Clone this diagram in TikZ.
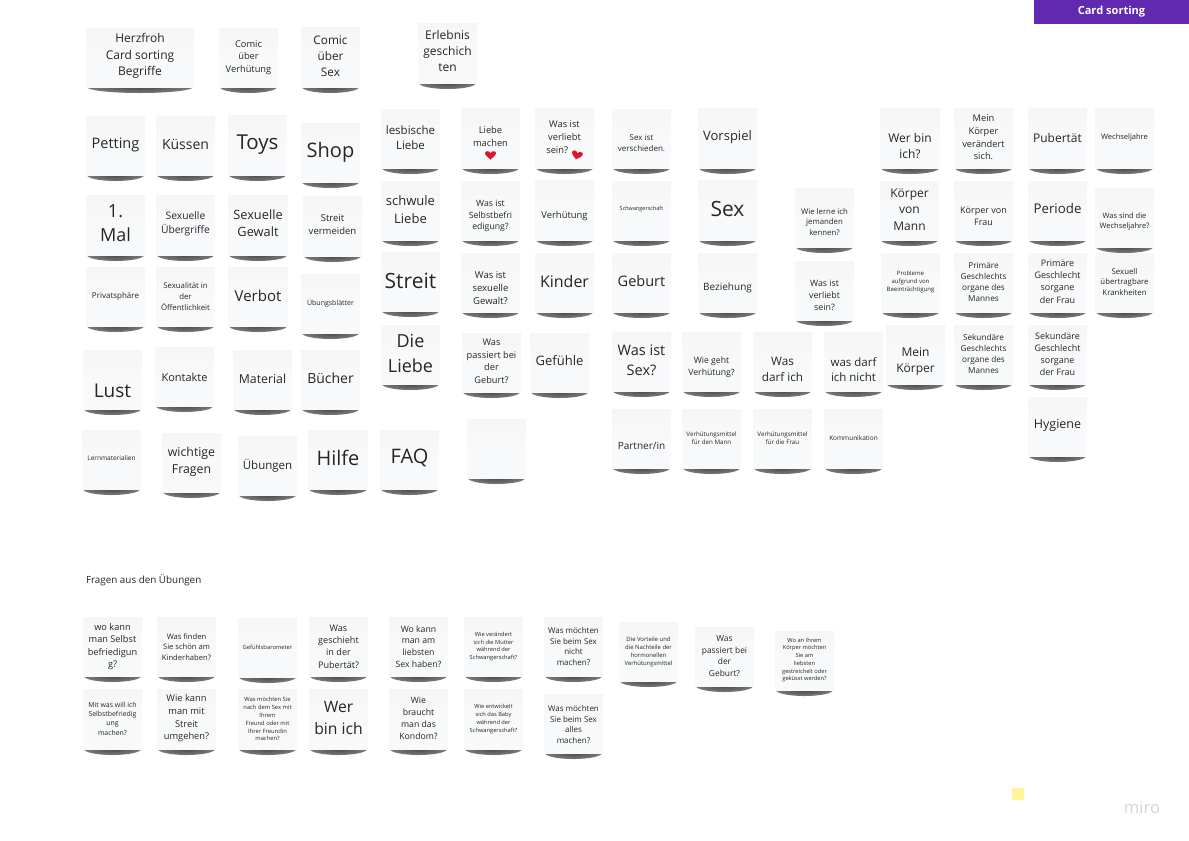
\documentclass[tikz,border=0pt]{standalone}
\usepackage{fontspec}
\setmainfont{Open Sans}
\definecolor{cardtop}{HTML}{F6F6F7}
\definecolor{cardbot}{HTML}{F8F9FA}
\definecolor{inkc}{HTML}{262626}
\definecolor{shadc}{HTML}{4A4A4A}
\definecolor{shadm}{HTML}{808080}
\definecolor{barc}{HTML}{6128B0}
\definecolor{stickyc}{HTML}{FFF59B}
\definecolor{miroc}{HTML}{D4D4DE}
\definecolor{heartc}{HTML}{E0152D}
\pgfdeclareradialshading{cardshadow}{\pgfpointorigin}{color(0bp)=(shadc); color(28bp)=(shadm); color(50bp)=(white)}
\tikzset{
 x=0.75pt,y=-0.75pt,
 cardbox/.style={inner sep=0,outer sep=0,draw=none,top color=cardtop,bottom color=cardbot,middle color=cardbot},
 cardtext/.style={inner sep=0,outer sep=0,align=center,text=inkc},
 shadowbar/.style={shading=cardshadow,draw=none},
 heartfill/.style={fill=heartc,draw=none}
}
% \card{name}{x}{y}{w}{h}
\newcommand\card[5]{%
 \pgfmathsetmacro\cardb{#3+#5}\pgfmathsetmacro\cardc{#2+#4/2}\pgfmathsetmacro\cardrx{#4/2-1}%
 \shade[shadowbar] (\cardc,\cardb) ellipse [x radius=\cardrx,y radius=6];
 \node[cardbox,minimum width=#4*0.75pt,minimum height=#5*0.75pt,anchor=north west] (#1) at (#2,#3) {};
}
\newcommand\lbl[4][0]{% \lbl[dy]{card}{font px}{text}
 \pgfmathsetmacro\cfs{0.75*#3}\pgfmathsetmacro\clh{0.75*#3*1.36}%
 \node[cardtext,font=\fontsize{\cfs pt}{\clh pt}\selectfont] (#2t) at ([yshift=#1*-0.75pt-0.75pt]#2.center) {#4};
}
\newcommand\heartat[3]{% centre x, y, rotation
 \fill[heartfill,shift={(#1,#2)},rotate=#3] (0,4.5) .. controls (-2,2.5) and (-5.5,0.5) .. (-5.5,-1.8) .. controls (-5.5,-4.2) and (-1.5,-4.8) .. (0,-1.8) .. controls (1.5,-4.8) and (5.5,-4.2) .. (5.5,-1.8) .. controls (5.5,0.5) and (2,2.5) .. (0,4.5) -- cycle;
}
\begin{document}
\begin{tikzpicture}
\useasboundingbox (0,0) rectangle (1189,840);
\fill[white] (0,0) rectangle (1189,840);
% header
\node[fill=barc,inner sep=0,outer sep=0,minimum width=155*0.75pt,minimum height=24*0.75pt,anchor=north west,text=white,font=\fontsize{8.3}{10}\selectfont\bfseries] (hdr) at (1034,0) {Card sorting};
% top row
\card{a1}{86}{28}{108}{59}\lbl[-2.5]{a1}{12}{Herzfroh\\Card sorting\\Begriffe}
\card{a2}{219}{28}{59}{59}\lbl[-1]{a2}{9.3}{Comic\\über\\Verhütung}
\card{a3}{301}{27}{59}{60}\lbl[-2]{a3}{11.8}{Comic\\über\\Sex}
\card{a4}{418}{23}{59}{60}\lbl[-3]{a4}{12}{Erlebnis\\geschich\\ten}
% left block
\card{b1}{86}{116}{59}{59}\lbl[-2]{b1}{14.5}{Petting}
\card{b2}{156}{116}{59}{59}\lbl[-2]{b2}{14}{Küssen}
\card{b3}{228}{115}{59}{60}\lbl[-1.5]{b3}{20.5}{Toys}
\card{b4}{301}{123}{59}{59}\lbl[-1]{b4}{20}{Shop}
\card{c1}{86}{195}{59}{60}\lbl[-3]{c1}{18}{1.\\Mal}
\card{c2}{156}{195}{59}{60}\lbl[-2]{c2}{10.3}{Sexuelle\\Übergriffe}
\card{c3}{228}{195}{60}{60}\lbl[-3]{c3}{12.8}{Sexuelle\\Gewalt}
\card{c4}{303}{196}{59}{60}\lbl[-2]{c4}{9.5}{Streit\\vermeiden}
\card{d1}{86}{267}{59}{59}\lbl[-1]{d1}{8}{Privatsphäre}
\card{d2}{156}{267}{59}{59}\lbl[-1]{d2}{7.8}{Sexualität in\\der\\Öffentlichkeit}
\card{d3}{228}{267}{60}{59}\lbl[-2]{d3}{15}{Verbot}
\card{d4}{301}{274}{59}{59}\lbl[-1]{d4}{7}{Übungsblätter}
\card{e1}{83}{350}{59}{59}\lbl[10]{e1}{19}{Lust}
\card{e2}{155}{347}{59}{59}\lbl[0]{e2}{11}{Kontakte}
\card{e3}{233}{350}{59}{59}\lbl[-2]{e3}{12.3}{Material}
\card{e4}{301}{350}{59}{59}\lbl[-2]{e4}{14}{Bücher}
\card{f1}{82}{430}{59}{59}\lbl[-2]{f1}{6.5}{Lernmaterialien}
\card{f2}{162}{433}{59}{59}\lbl[-2]{f2}{12.3}{wichtige\\Fragen}
\card{f3}{238}{436}{59}{59}\lbl[-1]{f3}{11.5}{Übungen}
\card{f4}{308}{430}{60}{59}\lbl[-3]{f4}{20}{Hilfe}
\card{f5}{380}{430}{59}{59}\lbl[-3]{f5}{20}{FAQ}
\card{f6}{467}{419}{59}{59}
% column lesbische
\card{g1}{381}{109}{59}{59}\lbl[-2]{g1}{11.5}{lesbische\\Liebe}
\card{g2}{381}{181}{59}{59}\lbl[-2]{g2}{13}{schwule\\Liebe}
\card{g3}{381}{252}{59}{59}\lbl[-2]{g3}{21}{Streit}
\card{g4}{381}{325}{59}{59}\lbl[-2]{g4}{18}{Die\\Liebe}
% middle block
\card{h1}{461}{108}{59}{60}\lbl[-2.5]{h1}{9.3}{Liebe\\machen}
\heartat{490.5}{155}{0}
\card{h2}{535}{108}{59}{60}\lbl[-2]{h2}{9.3}{Was ist\\verliebt\\sein?\hspace*{11pt}}
\heartat{577}{155}{-15}
\card{h3}{612}{109}{59}{59}\lbl[4]{h3}{8}{Sex ist\\verschieden.}
\card{h4}{698}{108}{59}{60}\lbl[-2]{h4}{13}{Vorspiel}
\card{i1}{461}{181}{59}{59}\lbl[4.5]{i1}{8.7}{Was ist\\Selbstbefri\\edigung?}
\card{i2}{535}{180}{59}{60}\lbl[5]{i2}{9.4}{Verhütung}
\card{i3}{612}{181}{59}{59}\lbl[-2]{i3}{5.5}{Schwangerschaft}
\card{i4}{698}{180}{59}{60}\lbl[-2]{i4}{21}{Sex}
\card{j1}{461}{253}{59}{59}\lbl[4.5]{j1}{9.5}{Was ist\\sexuelle\\Gewalt?}
\card{j2}{535}{253}{59}{59}\lbl[-2]{j2}{16}{Kinder}
\card{j3}{612}{253}{59}{59}\lbl[-2]{j3}{14.5}{Geburt}
\card{j4}{698}{253}{59}{59}\lbl[4.5]{j4}{10}{Beziehung}
\card{k1}{462}{333}{59}{59}\lbl[-2]{k1}{9.2}{Was\\passiert bei\\der\\Geburt?}
\card{k2}{530}{333}{59}{59}\lbl[-2.5]{k2}{13}{Gefühle}
\card{l1}{612}{332}{59}{59}\lbl[-2]{l1}{14.5}{Was ist\\Sex?}
\card{l2}{682}{332}{59}{59}\lbl[4.5]{l2}{8.7}{Wie geht\\Verhütung?}
\card{l3}{753}{332}{59}{59}\lbl[7]{l3}{11.7}{Was\\darf ich}
\card{l4}{824}{332}{59}{59}\lbl[7]{l4}{11.5}{was darf\\ich nicht}
\card{m1}{612}{409}{59}{59}\lbl[6.5]{m1}{10}{Partner/in}
\card{m2}{682}{409}{59}{59}\lbl[-1.5]{m2}{6.2}{Verhütungsmittel\\für den Mann}
\card{m3}{753}{409}{59}{59}\lbl[-1.5]{m3}{6.2}{Verhütungsmittel\\für die Frau}
\card{m4}{824}{409}{59}{59}\lbl[-1.5]{m4}{6.5}{Kommunikation}
\card{n1}{795}{188}{59}{59}\lbl[3.5]{n1}{7.8}{Wie lerne ich\\jemanden\\kennen?}
\card{n2}{795}{261}{59}{59}\lbl[3.5]{n2}{8.8}{Was ist\\verliebt\\sein?}
% right block
\card{o1}{880}{108}{60}{60}\lbl[7]{o1}{12}{Wer bin\\ich?}
\card{o2}{954}{108}{59}{60}\lbl[-1.5]{o2}{9.3}{Mein\\Körper\\verändert\\sich.}
\card{o3}{1028}{108}{59}{60}\lbl[-1]{o3}{12}{Pubertät}
\card{o4}{1095}{108}{59}{60}\lbl[-1.5]{o4}{7.5}{Wechseljahre}
\card{p1}{880}{181}{59}{59}\lbl[-2]{p1}{12}{Körper\\von\\Mann}
\card{p2}{954}{181}{59}{59}\lbl[4.5]{p2}{9}{Körper von\\Frau}
\card{p3}{1028}{181}{59}{59}\lbl[-2.5]{p3}{13.3}{Periode}
\card{p4}{1095}{188}{59}{59}\lbl[3]{p4}{7.5}{Was sind die\\Wechseljahre?}
\card{q1}{881}{253}{59}{59}\lbl[-1.5]{q1}{6}{Probleme\\aufgrund von\\Beeinträchtigung}
\card{q2}{954}{253}{59}{59}\lbl[-1.5]{q2}{8.2}{Primäre\\Geschlechts\\organe des\\Mannes}
\card{q3}{1028}{253}{59}{59}\lbl[-2]{q3}{9}{Primäre\\Geschlecht\\sorgane\\der Frau}
\card{q4}{1095}{253}{59}{59}\lbl[-1.5]{q4}{7.8}{Sexuell\\übertragbare\\Krankheiten}
\card{r1}{886}{325}{59}{59}\lbl[6]{r1}{12}{Mein\\Körper}
\card{r2}{954}{325}{59}{59}\lbl[-1.5]{r2}{8.2}{Sekundäre\\Geschlechts\\organe des\\Mannes}
\card{r3}{1028}{325}{59}{59}\lbl[-1.5]{r3}{9}{Sekundäre\\Geschlecht\\sorgane\\der Frau}
\card{r4}{1028}{397}{59}{59}\lbl[-2.5]{r4}{12.5}{Hygiene}
% caption
\node[inner sep=0,outer sep=0,anchor=west,text=inkc,font=\fontsize{7.4}{9}\selectfont] (cap) at (86,580) {Fragen aus den Übungen};
% bottom rows
\card{s1}{83}{617}{59}{59}\lbl[-1]{s1}{9.2}{wo kann\\man Selbst\\befriedigun\\g?}
\card{s2}{157}{617}{59}{59}\lbl[-0.5]{s2}{7.6}{Was finden\\Sie schön am\\Kinderhaben?}
\card{s3}{238}{618}{59}{59}\lbl[-1]{s3}{5.8}{Gefühlsbarometer}
\card{s4}{309}{617}{59}{59}\lbl[-1]{s4}{9.1}{Was\\geschieht\\in der\\Pubertät?}
\card{s5}{389}{617}{59}{59}\lbl[-1]{s5}{8.7}{Wo kann\\man  am\\liebsten\\Sex haben?}
\card{s6}{464}{617}{59}{59}\lbl[-1]{s6}{5.7}{Wie verändert\\sich die Mutter\\während der\\Schwangerschaft?}
\card{s7}{544}{617}{59}{59}\lbl[-1]{s7}{8}{Was möchten\\Sie beim Sex\\nicht\\machen?}
\card{s8}{619}{622}{59}{59}\lbl[-1]{s8}{5.9}{Die Vorteile und\\die Nachteile der\\hormonellen\\Verhütungsmittel}
\card{s9}{695}{627}{59}{59}\lbl[-1.5]{s9}{8.4}{Was\\passiert bei\\der\\Geburt?}
\card{s10}{775}{631}{59}{59}\lbl[-1.5]{s10}{5.7}{Wo an Ihrem\\Körper möchten\\Sie am\\liebsten\\gestreichelt oder\\geküsst werden?}
\card{t1}{83}{689}{59}{60}\lbl[-1.5]{t1}{6.9}{Mit was will ich\\Selbstbefriedig\\ung\\machen?}
\card{t2}{157}{689}{59}{60}\lbl[-1.5]{t2}{9.3}{Wie kann\\man mit\\Streit\\umgehen?}
\card{t3}{238}{689}{59}{60}\lbl[-1]{t3}{5.8}{Was möchten Sie\\nach dem Sex mit\\Ihrem\\Freund oder mit\\Ihrer Freundin\\machen?}
\card{t4}{309}{689}{59}{60}\lbl[-2]{t4}{15.7}{Wer\\bin ich}
\card{t5}{389}{689}{59}{60}\lbl[-1.5]{t5}{8.7}{Wie\\braucht\\man das\\Kondom?}
\card{t6}{464}{689}{59}{60}\lbl[-1]{t6}{5.7}{Wie entwickelt\\sich das Baby\\während der\\Schwangerschaft?}
\card{t7}{544}{694}{59}{59}\lbl[0]{t7}{8}{Was möchten\\Sie beim Sex\\alles\\machen?}
% small sticky and logo
\node[fill=stickyc,inner sep=0,outer sep=0,minimum width=12*0.75pt,minimum height=12*0.75pt,anchor=north west] (sticky) at (1012,788) {};
\node[inner sep=0,outer sep=0,text=miroc,font=\fontsize{12.5}{14}\selectfont] (logo) at (1142,807) {miro};
\end{tikzpicture}
\end{document}
